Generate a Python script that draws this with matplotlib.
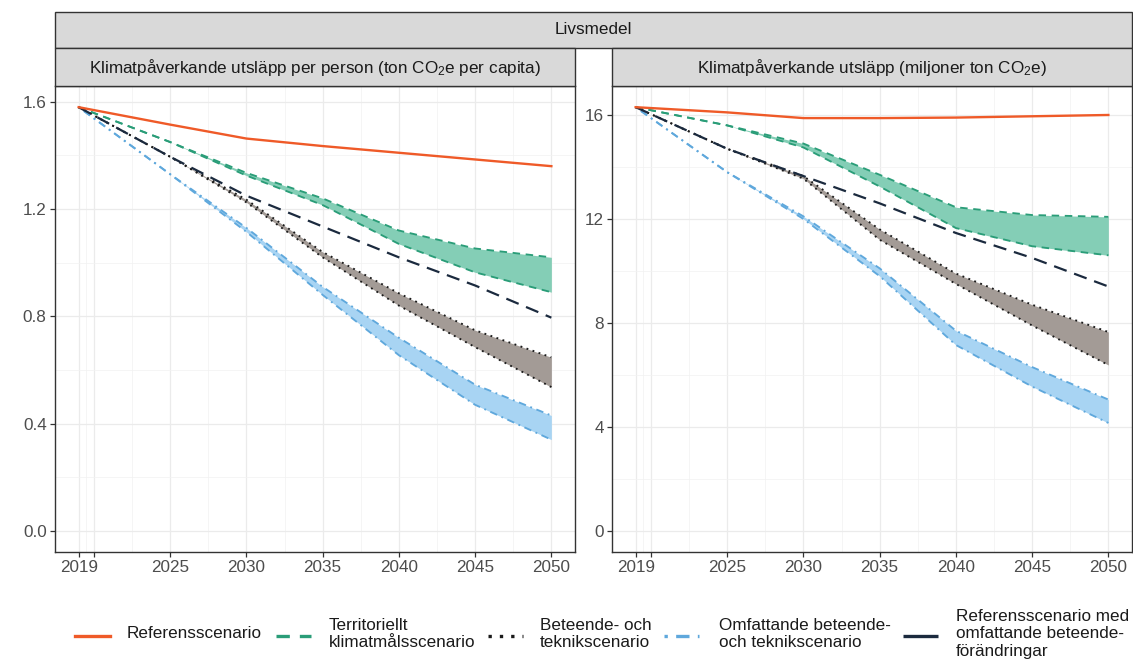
import matplotlib
matplotlib.use("Agg")
import matplotlib.pyplot as plt
from matplotlib.lines import Line2D
from matplotlib.patches import Rectangle

plt.rcParams["font.family"] = ["Liberation Sans", "DejaVu Sans"]
plt.rcParams["mathtext.fontset"] = "custom"
plt.rcParams["mathtext.rm"] = "Liberation Sans"
plt.rcParams["mathtext.it"] = "Liberation Sans:italic"

# ---------------------------------------------------------------- data
years = [2019, 2025, 2030, 2035, 2040, 2045, 2050]

# ton CO2e per capita
ref_pc = [1.58, 1.515, 1.463, 1.435, 1.41, 1.385, 1.36]
refbeh_pc = [1.58, 1.395, 1.25, 1.135, 1.02, 0.915, 0.795]
terr_hi_pc = [1.58, 1.45, 1.335, 1.24, 1.12, 1.053, 1.02]
terr_lo_pc = [1.58, 1.45, 1.325, 1.215, 1.07, 0.964, 0.89]
behtech_hi_pc = [1.58, 1.395, 1.235, 1.04, 0.886, 0.748, 0.647]
behtech_lo_pc = [1.58, 1.395, 1.225, 1.02, 0.84, 0.685, 0.536]
wide_hi_pc = [1.58, 1.33, 1.13, 0.91, 0.72, 0.545, 0.43]
wide_lo_pc = [1.58, 1.33, 1.115, 0.88, 0.655, 0.47, 0.34]

# million ton CO2e
ref_tot = [16.3, 16.1, 15.88, 15.88, 15.9, 15.95, 16.0]
refbeh_tot = [16.3, 14.7, 13.65, 12.6, 11.46, 10.5, 9.4]
terr_hi_tot = [16.3, 15.6, 14.9, 13.7, 12.45, 12.15, 12.08]
terr_lo_tot = [16.3, 15.6, 14.75, 13.25, 11.65, 10.95, 10.6]
behtech_hi_tot = [16.3, 14.7, 13.65, 11.6, 9.9, 8.7, 7.65]
behtech_lo_tot = [16.3, 14.7, 13.55, 11.2, 9.5, 7.9, 6.38]
wide_hi_tot = [16.3, 13.8, 12.1, 10.1, 7.7, 6.3, 5.05]
wide_lo_tot = [16.3, 13.8, 12.0, 9.8, 7.15, 5.55, 4.15]

x_ticks = [2019, 2020, 2025, 2030, 2035, 2040, 2045, 2050]
x_ticklabels = ["2019", "", "2025", "2030", "2035", "2040", "2045", "2050"]
y_ticks_pc = [0.0, 0.4, 0.8, 1.2, 1.6]
y_ticklabels_pc = ["0.0", "0.4", "0.8", "1.2", "1.6"]
y_ticks_tot = [0, 4, 8, 12, 16]
y_ticklabels_tot = ["0", "4", "8", "12", "16"]

outer_title = "Livsmedel"
panel_titles = [
    "Klimatpåverkande utsläpp per person (ton CO$_2$e per capita)",
    "Klimatpåverkande utsläpp (miljoner ton CO$_2$e)",
]
legend_labels = [
    "Referensscenario",
    "Territoriellt\nklimatmålsscenario",
    "Beteende- och\nteknikscenario",
    "Omfattande beteende-\noch teknikscenario",
    "Referensscenario med\nomfattande beteende-\nförändringar",
]

# ---------------------------------------------------------------- styles
RED = "#EF5A28"
GREEN = "#2A9D78"
GREEN_FILL = "#84CEB6"
DOT = "#1A1A1A"
GREY_FILL = "#A39B96"
BLUE = "#5FA8DC"
BLUE_FILL = "#A8D4F3"
NAVY = "#1B2A3E"

FS = 12.3
W, H = 1133, 659

style_ref = dict(color=RED, lw=1.7, linestyle="-")
style_terr = dict(color=GREEN, lw=1.35, linestyle=(0, (4, 3)))
style_bt = dict(color=DOT, lw=1.35, linestyle=(0, (1, 2.4)))
style_wide = dict(color=BLUE, lw=1.35, linestyle=(0, (1, 2.5, 4, 2.5)))
style_refbeh = dict(color=NAVY, lw=1.6, linestyle=(0, (6, 3.6)))


def box(x0, y0, x1, y1):
    return [x0 / W, 1 - y1 / H, (x1 - x0) / W, (y1 - y0) / H]


fig = plt.figure(figsize=(W / 100, H / 100), dpi=100)
fig.patch.set_facecolor("white")

ax1 = fig.add_axes(box(55, 86, 575, 552))
ax2 = fig.add_axes(box(612, 86, 1132, 552))

panels = [
    (ax1, ref_pc, refbeh_pc, terr_hi_pc, terr_lo_pc, behtech_hi_pc,
     behtech_lo_pc, wide_hi_pc, wide_lo_pc, y_ticks_pc, y_ticklabels_pc,
     [0.2, 0.6, 1.0, 1.4]),
    (ax2, ref_tot, refbeh_tot, terr_hi_tot, terr_lo_tot, behtech_hi_tot,
     behtech_lo_tot, wide_hi_tot, wide_lo_tot, y_ticks_tot, y_ticklabels_tot,
     [2, 6, 10, 14]),
]

for (ax, ref, refbeh, thi, tlo, bhi, blo, whi, wlo,
     yt, ytl, yminor) in panels:
    # ribbons
    ax.fill_between(years, tlo, thi, color=GREEN_FILL, lw=0, zorder=2)
    ax.fill_between(years, blo, bhi, color=GREY_FILL, lw=0, zorder=2)
    ax.fill_between(years, wlo, whi, color=BLUE_FILL, lw=0, zorder=2)
    # ribbon outlines
    for hi, lo, st in ((thi, tlo, style_terr), (bhi, blo, style_bt),
                       (whi, wlo, style_wide)):
        ax.plot(years, hi, zorder=3, **st)
        ax.plot(years, lo, zorder=3, **st)
    ax.plot(years, refbeh, zorder=4, **style_refbeh)
    ax.plot(years, ref, zorder=5, **style_ref)

    # scales with 5% expansion, y expanded to include 0
    top = max(ref + thi)
    ax.set_xlim(2019 - 0.05 * 31, 2050 + 0.05 * 31)
    ax.set_ylim(-0.05 * top, top * 1.05)

    ax.set_xticks(x_ticks)
    ax.set_xticklabels(x_ticklabels)
    ax.set_yticks(yt)
    ax.set_yticklabels(ytl)
    ax.set_xticks([2019.5, 2022.5, 2027.5, 2032.5, 2037.5, 2042.5, 2047.5],
                  minor=True)
    ax.set_yticks(yminor, minor=True)
    ax.tick_params(which="major", direction="out", length=3.5, width=0.9,
                   color="#333333", labelcolor="#4D4D4D", labelsize=FS,
                   pad=2.5)
    ax.tick_params(which="minor", length=0)
    ax.grid(which="major", color="#EBEBEB", lw=0.9, zorder=0)
    ax.grid(which="minor", color="#F2F2F2", lw=0.5, zorder=0)
    ax.set_axisbelow(True)
    for sp in ax.spines.values():
        sp.set_color("#333333")
        sp.set_linewidth(1.0)

# ---------------------------------------------------------------- strips
def strip(x0, y0, x1, y1, label):
    fig.patches.append(Rectangle((x0 / W, 1 - y1 / H), (x1 - x0) / W,
                                 (y1 - y0) / H, transform=fig.transFigure,
                                 facecolor="#D9D9D9", edgecolor="#333333",
                                 lw=1.0))
    fig.text((x0 + x1) / 2 / W, 1 - (y0 + y1) / 2 / H, label,
             ha="center", va="center", fontsize=FS, color="#1A1A1A")


strip(55, 12, 1132, 48, outer_title)
strip(55, 48, 575, 86, panel_titles[0])
strip(612, 48, 1132, 86, panel_titles[1])

# ---------------------------------------------------------------- legend
key_styles = [style_ref, style_terr, style_bt, style_wide,
              dict(color=NAVY, lw=1.6, linestyle=(0, (12, 3)))]
key_x = [75, 276, 488, 664, 903]
text_x = [127, 329, 540, 719, 956]
key_len = 35
key_y = 1 - 636 / H
for st, kx, tx, lab in zip(key_styles, key_x, text_x, legend_labels):
    s = dict(st)
    s["lw"] = 2.4
    fig.add_artist(Line2D([kx / W, (kx + key_len) / W], [key_y, key_y],
                          transform=fig.transFigure, **s))
    fig.text(tx / W, 1 - 634 / H, lab, ha="left", va="center",
             fontsize=FS, color="#1A1A1A", linespacing=1.2)

fig.savefig("out.png", dpi=100, facecolor="white")
